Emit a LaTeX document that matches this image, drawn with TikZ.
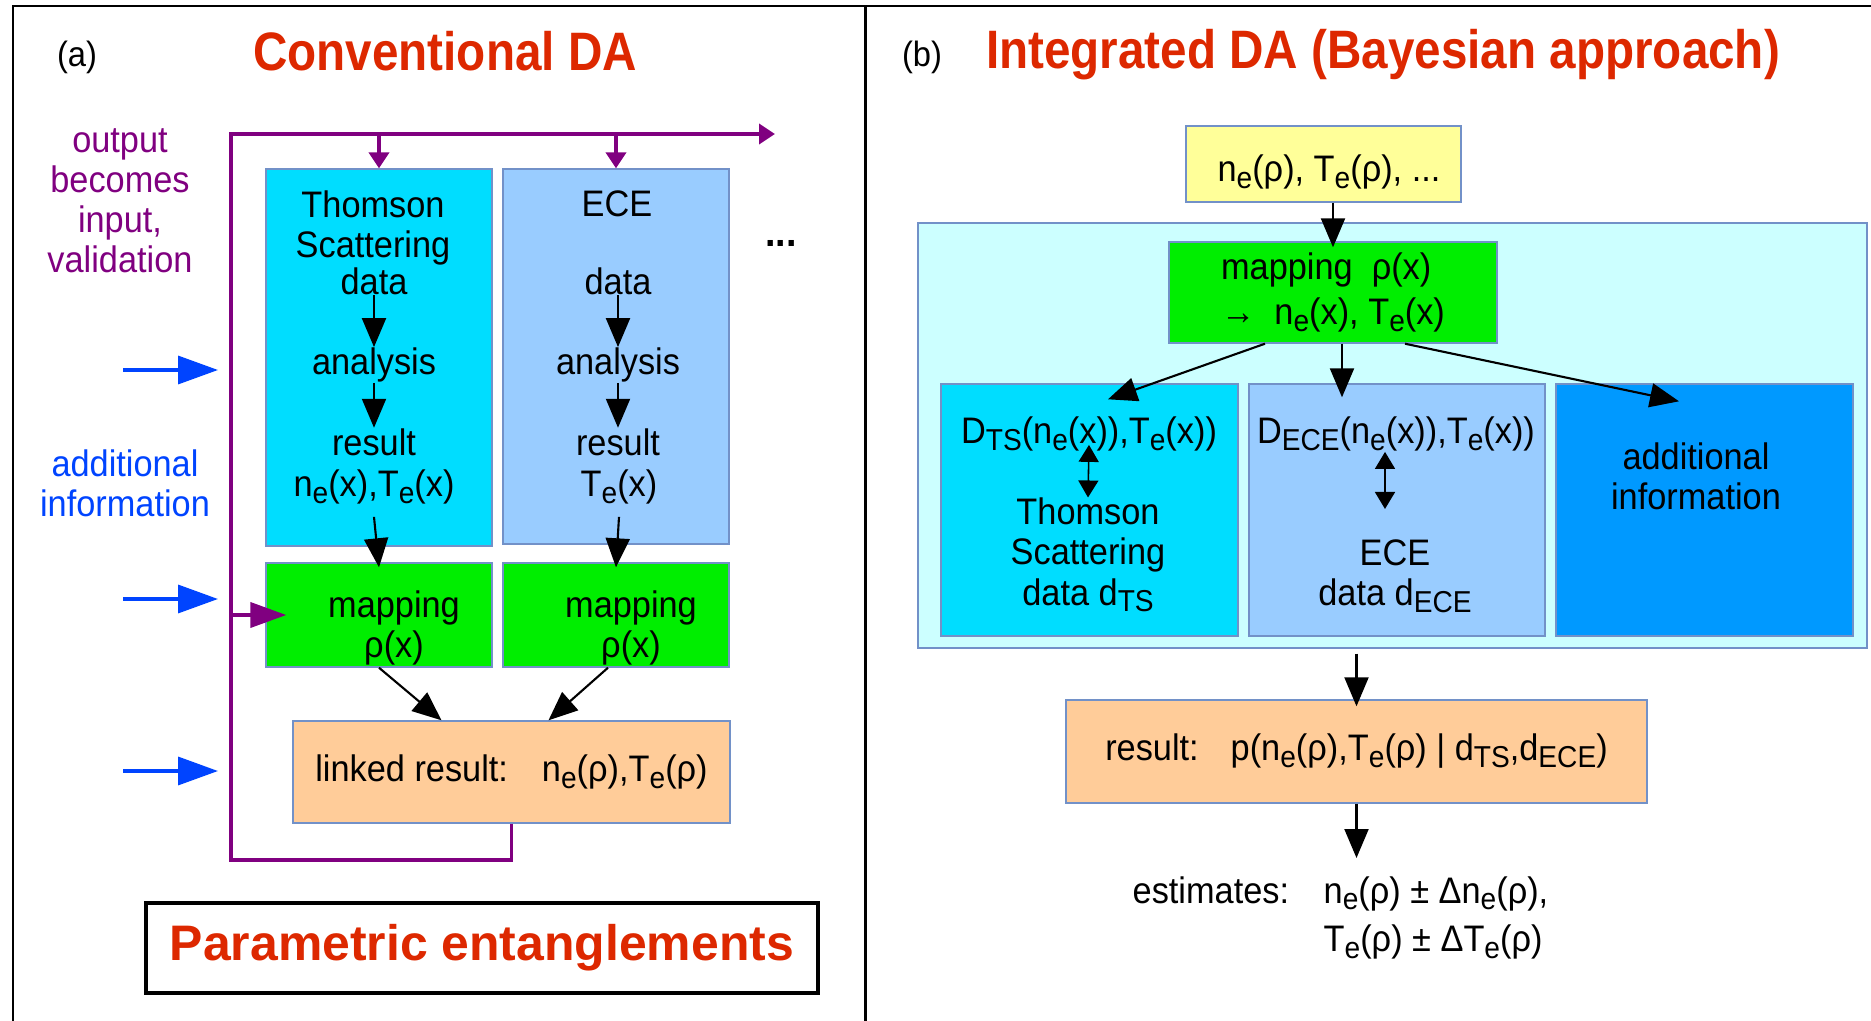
\documentclass[tikz,border=0pt]{standalone}
\usepackage{fontspec}
\setmainfont{Liberation Sans}[FakeStretch=0.93]
\newfontfamily\titlefont{Liberation Sans}[FakeStretch=0.88]
\newfontfamily\bannerfont{Liberation Sans}
\usetikzlibrary{arrows.meta}

\definecolor{titlered}{RGB}{221,40,0}
\definecolor{fbpurple}{RGB}{128,0,128}
\definecolor{infoblue}{RGB}{0,68,255}
\definecolor{boxline}{RGB}{114,145,200}
\definecolor{tscyan}{RGB}{0,221,255}
\definecolor{eceblue}{RGB}{153,204,255}
\definecolor{mapgreen}{RGB}{0,238,0}
\definecolor{respeach}{RGB}{255,204,153}
\definecolor{prioryellow}{RGB}{255,255,153}
\definecolor{modelcyan}{RGB}{204,255,255}
\definecolor{addblue}{RGB}{0,153,255}

% index set a little lower and larger than \textsubscript
\newcommand\sbs[1]{\raisebox{-0.65mm}{\fontsize{8.6}{9}\selectfont #1}}

\begin{document}
\begin{tikzpicture}[x=0.1mm, y=-0.1mm,
		box/.style={draw=boxline, line width=0.4pt, inner sep=0pt},
		txt/.style={inner sep=0pt, align=center, font=\fontsize{10.5}{11.4}\selectfont},
		headline/.style={inner sep=0pt, text=titlered, font=\titlefont\bfseries\fontsize{15.4}{18}\selectfont},
		panel/.style={inner sep=0pt, font=\fontsize{10}{11}\selectfont},
		flow/.style={line width=0.6pt, -{Triangle[length=2.9mm,width=2.4mm]}},
		both/.style={line width=0.45pt, {Triangle[length=1.7mm,width=2mm]}-{Triangle[length=1.7mm,width=2mm]}},
		fbline/.style={draw=fbpurple, line width=1.1pt},
		fbtip/.style={-{Triangle[length=1.6mm,width=2mm]}},
		infoarrow/.style={draw=infoblue, line width=1pt, -{Triangle[length=4mm,width=2.8mm]}}
		]
	\useasboundingbox (0,0) rectangle (1871,1021);

	% frame and divider
	\draw[line width=0.85pt] (13,1021) -- (13,6) -- (1871,6);
	\draw[line width=0.85pt] (865,6) -- (865,1021);

	% (a) conventional
	\node[panel] (taga) at (77,57) {(a)};
	\node[headline] (heada) at (445,51) {Conventional DA};

	\coordinate (fbtop) at (231,134);
	\coordinate (fbend) at (775,134);

	\node[box, fill=tscyan, minimum width=22.6mm, minimum height=37.7mm] (ts) at (379,357.5) {};
	\node[box, fill=eceblue, minimum width=22.6mm, minimum height=37.5mm] (ece) at (616,356.5) {};
	\node[box, fill=mapgreen, minimum width=22.6mm, minimum height=10.4mm] (tsmap) at (379,615) {};
	\node[box, fill=mapgreen, minimum width=22.6mm, minimum height=10.4mm] (ecemap) at (616,615) {};
	\node[box, fill=respeach, minimum width=43.7mm, minimum height=10.2mm, txt] (lr) at (511.5,772)
		{linked result:\hspace{3.4mm}n\sbs{e}(ρ),T\sbs{e}(ρ)};

	\node[txt] (tsname) at (373,228) {Thomson\\Scattering};
	\node[txt] (tsdata) at (374,281) {data};
	\node[txt] (tsana) at (374,365) {analysis};
	\node[txt] (tsres) at (374,442) {result};
	\node[txt] (tsval) at (374,487) {n\sbs{e}(x),T\sbs{e}(x)};
	\node[txt] (ecename) at (617,204) {ECE};
	\node[txt] (ecedata) at (618,281) {data};
	\node[txt] (eceana) at (618,365) {analysis};
	\node[txt] (eceres) at (618,442) {result};
	\node[txt] (eceval) at (619,487) {T\sbs{e}(x)};
	\node[txt] (tsmaptxt) at (394,628) {mapping\\ρ(x)};
	\node[txt] (ecemaptxt) at (631,628) {mapping\\ρ(x)};

	\foreach \c in {ts,ece} {
		\draw[flow] (\c data) -- (\c ana);
		\draw[flow] (\c ana) -- (\c res);
		\draw[flow] ([yshift=-1.2mm]\c val.south) -- ([yshift=-0.5mm]\c map.north);
	}
	\draw[flow] (tsmap.south) -- ([xshift=-7mm]lr.north);
	\draw[flow] ([xshift=-0.8mm]ecemap.south) -- ([xshift=3.7mm]lr.north);

	% output fed back as input
	\draw[fbline, fbtip] (lr.south) -- ++(0,36) -| (fbtop) -- (fbend);
	\draw[fbline, fbtip] (ts.north |- fbtop) -- (ts.north);
	\draw[fbline, fbtip] (ece.north |- fbtop) -- (ece.north);
	\draw[fbline, -{Triangle[length=3.6mm,width=2.5mm]}] (fbtop |- tsmap.west) -- ([xshift=2.1mm]tsmap.west);

	\node[txt, text=fbpurple] (loopnote) at (120,201) {output\\becomes\\input,\\validation};
	\node[txt, text=infoblue] (infonote) at (125,483) {additional\\information};
	\node[txt, font=\bfseries\fontsize{11.5}{12}\selectfont] (more) at (781,243) {...};

	\foreach \y [count=\i] in {370,599,771} {
		\coordinate (src\i) at (123,\y);
		\coordinate (dst\i) at (218,\y);
		\draw[infoarrow] (src\i) -- (dst\i);
	}

	\node[draw, line width=1pt, inner sep=0pt, minimum width=67.2mm, minimum height=9mm, text=titlered,
		font=\bannerfont\bfseries\fontsize{14.2}{16}\selectfont] (banner) at (482,948) {Parametric entanglements};

	% (b) integrated
	\node[panel] (tagb) at (922,57) {(b)};
	\node[headline] (headb) at (1383,55) {Integrated DA (Bayesian approach)};

	\node[box, fill=prioryellow, minimum width=27.5mm, minimum height=7.6mm] (prior) at (1323.5,164) {};
	\node[txt] (priortxt) at (1329,172) {n\sbs{e}(ρ), T\sbs{e}(ρ), ...};
	\node[box, fill=modelcyan, minimum width=94.9mm, minimum height=42.5mm] (model) at (1392.5,435.5) {};
	\node[box, fill=mapgreen, minimum width=32.8mm, minimum height=10.1mm, txt, align=left,
		font=\fontsize{10.5}{12.8}\selectfont] (bmap) at (1333,292.5) {mapping\ \ ρ(x)\\→\ \ n\sbs{e}(x), T\sbs{e}(x)};

	\node[box, fill=tscyan, minimum width=29.7mm, minimum height=25.2mm] (bts) at (1089.5,510) {};
	\node[box, fill=eceblue, minimum width=29.6mm, minimum height=25.2mm] (bece) at (1397,510) {};
	\node[box, fill=addblue, minimum width=29.7mm, minimum height=25.2mm] (badd) at (1704.5,510) {};

	\node[txt] (dts) at (1089,434) {D\sbs{TS}(n\sbs{e}(x)),T\sbs{e}(x))};
	\node[txt] (tsdesc) at (1088,555) {Thomson\\Scattering\\data d\sbs{TS}};
	\node[txt] (dece) at (1396,434) {D\sbs{ECE}(n\sbs{e}(x)),T\sbs{e}(x))};
	\node[txt] (ecedesc) at (1395,576) {ECE\\data d\sbs{ECE}};
	\node[txt] (addtxt) at (1696,476) {additional\\information};

	\draw[flow] (prior.south -| bmap.north) -- ([yshift=-0.6mm]bmap.north);
	\draw[flow] ([xshift=-6.8mm]bmap.south) -- ([shift={(1.85mm,-1.6mm)}]bts.north);
	\draw[flow] ([xshift=0.9mm]bmap.south) -- ([xshift=0.9mm,yshift=-1.4mm]bmap.south |- bece.north);
	\draw[flow] ([xshift=7.2mm]bmap.south) -- ([shift={(-2.55mm,-1.8mm)}]badd.north);
	\draw[both] ([yshift=0.7mm]dts.south) -- (tsdesc.north);
	\draw[both] ([xshift=-1.1mm]dece.south) -- ([xshift=-1mm,yshift=3mm]ecedesc.north);

	\node[box, fill=respeach, minimum width=58.1mm, minimum height=10.3mm, txt] (res) at (1356.5,751.5)
		{result:\hspace{3.2mm}p(n\sbs{e}(ρ),T\sbs{e}(ρ) | d\sbs{TS},d\sbs{ECE})};
	\draw[flow] ([yshift=-0.5mm]model.south -| res.north) -- ([yshift=-0.7mm]res.north);

	\node[txt, anchor=base west] (estlbl) at (1132,903) {estimates:};
	\node[txt, anchor=north west, align=left, font=\fontsize{10.5}{13.7}\selectfont] (estval) at (1323,876)
		{n\sbs{e}(ρ) ± Δn\sbs{e}(ρ),\\T\sbs{e}(ρ) ± ΔT\sbs{e}(ρ)};
	\draw[flow] (res.south) -- ([yshift=1.8mm]res.south |- estval.north);
\end{tikzpicture}
\end{document}
